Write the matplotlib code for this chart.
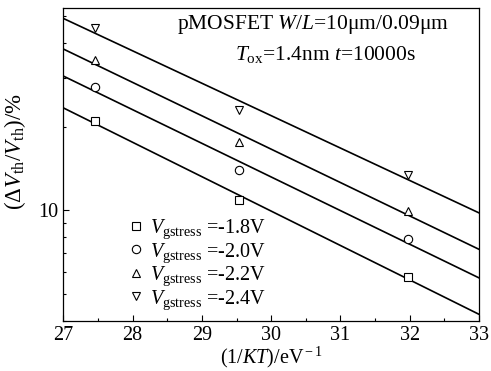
import numpy as np
import matplotlib
matplotlib.use("Agg")
import matplotlib.pyplot as plt

plt.rcParams['font.family'] = ['Liberation Serif', 'DejaVu Serif']
plt.rcParams['mathtext.fontset'] = 'custom'
plt.rcParams['mathtext.rm'] = 'Liberation Serif'
plt.rcParams['mathtext.it'] = 'Liberation Serif:italic'
plt.rcParams['mathtext.bf'] = 'Liberation Serif:bold'

# 1/KT values (eV^-1)
inv_kt = [27.45, 29.54, 31.97]

# dVth/Vth (%) for each gate stress voltage
stress_labels = ["-1.8V", "-2.0V", "-2.2V", "-2.4V"]
dvth_18 = [21.0, 10.9, 5.77]
dvth_20 = [27.9, 13.96, 7.87]
dvth_22 = [34.9, 17.6, 9.94]
dvth_24 = [45.4, 22.9, 13.4]
series = [dvth_18, dvth_20, dvth_22, dvth_24]
markers = ['s', 'o', '^', 'v']
msizes = [5.4, 6.0, 6.4, 6.4]

fig = plt.figure(figsize=(4.91, 3.71), dpi=100)
ax = fig.add_axes([0.129, 0.135, 0.8466, 0.8434])

xfit = np.array([27, 33])
for vals, m, ms, lab in zip(series, markers, msizes, stress_labels):
    # exponential (Arrhenius) fit -> straight line on log axis
    k, b = np.polyfit(inv_kt, np.log10(vals), 1)
    ax.plot(xfit, 10 ** (k * xfit + b), color='black', lw=1.2)
    ax.plot(inv_kt, vals, ls='none', marker=m, ms=ms, mfc='white',
            mec='black', mew=0.8, label=r"$V_{\rm gstress}$ =" + lab)

ax.set_yscale('log')
ax.set_xlim(27, 33)
ax.set_ylim(4, 53.5)
ax.set_xticks(range(27, 34))
ax.set_xticks(np.arange(27.5, 33, 1), minor=True)
ax.set_yticks([10])
ax.set_yticklabels(['10'])
ax.set_yticks([4, 5, 6, 7, 8, 9, 20, 30, 40, 50], minor=True)
ax.yaxis.set_minor_formatter(matplotlib.ticker.NullFormatter())
ax.tick_params(which='both', direction='in', top=False, right=False,
               labelsize=14.5, width=0.8)
ax.tick_params(which='major', length=4)
ax.tick_params(which='minor', length=2.5)
for s in ax.spines.values():
    s.set_linewidth(0.9)

ax.set_xlabel(r"(1/$KT$)/eV$^{\rm -1}$", fontsize=14.5, labelpad=0)
ax.set_ylabel(r"($\Delta V_{\rm th}/V_{\rm th}$)/%", fontsize=16.5)
ax.yaxis.set_label_coords(-0.085, 0.54)

ax.text(0.6, 0.985, r"pMOSFET $W/L$=10μm/0.09μm", transform=ax.transAxes,
        ha='center', va='top', fontsize=15.5)
ax.text(0.63, 0.885, r"$T_{\rm ox}$=1.4nm $t$=10000s", transform=ax.transAxes,
        ha='center', va='top', fontsize=15.5)

ax.legend(loc='lower left', bbox_to_anchor=(0.155, 0.03), frameon=False,
          fontsize=14.5, handlelength=0.8, handletextpad=0.3,
          labelspacing=0.0, borderaxespad=0, borderpad=0)

fig.savefig("out.png", dpi=100)
